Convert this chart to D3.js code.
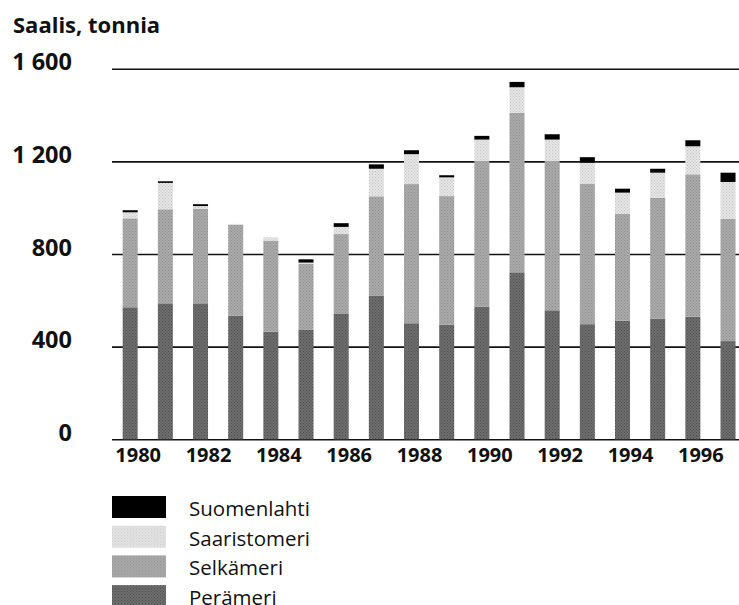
<!DOCTYPE html>
<html>
<head>
<meta charset="utf-8">
<script src="https://cdn.jsdelivr.net/npm/d3@7"></script>
<style>
  html, body { margin: 0; padding: 0; background: #fff; }
  svg { display: block; }
</style>
</head>
<body>
<svg id="chart" width="739" height="605"></svg>
<script>
// Saalis merialueittain 1980–1997, tonnia
const years = [1980, 1981, 1982, 1983, 1984, 1985, 1986, 1987, 1988,
               1989, 1990, 1991, 1992, 1993, 1994, 1995, 1996, 1997];
const perameri     = [570, 587, 587, 534, 465, 472, 541, 619, 501, 495, 573, 721, 557, 497, 512, 521, 529, 424];
const selkameri    = [384, 406, 409, 392, 392, 285, 345, 430, 601, 555, 630, 689, 646, 607, 462, 522, 615, 527];
const saaristomeri = [ 26, 114,  11,   4,  15,   6,  31, 119, 129,  81,  91, 110,  91,  90,  91, 108, 121, 160];
const suomenlahti  = [  9,   7,   8,   0,   0,  14,  16,  19,  17,   9,  16,  23,  23,  24,  17,  17,  26,  40];

const seriesNames = ["Perämeri", "Selkämeri", "Saaristomeri", "Suomenlahti"];
const yTicks = [0, 400, 800, 1200, 1600];
const xTickYears = [1980, 1982, 1984, 1986, 1988, 1990, 1992, 1994, 1996];
const legendOrder = ["Suomenlahti", "Saaristomeri", "Selkämeri", "Perämeri"];

const rows = years.map((yr, i) => ({
  year: yr,
  "Perämeri": perameri[i],
  "Selkämeri": selkameri[i],
  "Saaristomeri": saaristomeri[i],
  "Suomenlahti": suomenlahti[i]
}));

const svg = d3.select("#chart");
const defs = svg.append("defs");

// halftone-like fills: a fine dot screen over a flat grey
function screen(id, base, dot) {
  const p = defs.append("pattern")
    .attr("id", id).attr("patternUnits", "userSpaceOnUse")
    .attr("width", 3).attr("height", 3);
  p.append("rect").attr("width", 3).attr("height", 3).attr("fill", base);
  p.append("rect").attr("width", 1).attr("height", 1).attr("fill", dot);
  p.append("rect").attr("x", 1.5).attr("y", 1.5).attr("width", 1).attr("height", 1).attr("fill", dot);
}
screen("pPera", "#6e6e6e", "#4e4e4e");
screen("pSelka", "#aaaaaa", "#8e8e8e");
screen("pSaaristo", "#e6e6e6", "#c4c4c4");

const fills = {
  "Perämeri": "url(#pPera)",
  "Selkämeri": "url(#pSelka)",
  "Saaristomeri": "url(#pSaaristo)",
  "Suomenlahti": "#000"
};

const plotLeft = 112, plotRight = 739;
const y = d3.scaleLinear().domain([0, 1600]).range([439.3, 68.7]);
const x = d3.scaleBand().domain(years).range([112.6, 745.6])
  .paddingInner(0.573).paddingOuter(0.2865);

const fiLocale = d3.formatLocale({ decimal: ",", thousands: " ", grouping: [3], currency: ["", " €"] });
const fmt = fiLocale.format(",d");

// title
svg.append("text")
  .attr("x", 13).attr("y", 33)
  .attr("font-family", "'Open Sans', sans-serif")
  .attr("font-weight", 700).attr("font-size", 22)
  .attr("fill", "#111")
  .text("Saalis, tonnia");

// y axis with gridlines
const yAxis = svg.append("g")
  .attr("transform", `translate(${plotLeft},0)`)
  .call(d3.axisLeft(y).tickValues(yTicks).tickFormat(fmt)
    .tickSize(-(plotRight - plotLeft)).tickPadding(40));
yAxis.select(".domain").remove();
yAxis.selectAll(".tick line").attr("stroke", "#111").attr("stroke-width", 1.6);
yAxis.selectAll(".tick text")
  .attr("dy", "0.05em")
  .attr("font-family", "'Open Sans', sans-serif")
  .attr("font-weight", 700).attr("font-size", 23.5)
  .attr("fill", "#111");

// stacked bars
const stack = d3.stack().keys(seriesNames);
const layers = stack(rows);
svg.append("g").selectAll("g")
  .data(layers).join("g")
  .attr("fill", d => fills[d.key])
  .selectAll("rect")
  .data(d => d).join("rect")
  .attr("x", d => x(d.data.year))
  .attr("width", x.bandwidth())
  .attr("y", d => y(d[1]))
  .attr("height", d => Math.max(0, y(d[0]) - y(d[1])));

// x axis labels
const xAxis = svg.append("g")
  .attr("transform", `translate(0,${y(0)})`)
  .call(d3.axisBottom(x).tickValues(xTickYears).tickSize(0).tickPadding(0));
xAxis.select(".domain").remove();
xAxis.selectAll(".tick text")
  .attr("y", 22.4).attr("dy", 0).attr("dx", 8)
  .attr("font-family", "'Open Sans', sans-serif")
  .attr("font-weight", 700).attr("font-size", 20)
  .attr("fill", "#111");

// legend
const legend = svg.append("g").selectAll("g")
  .data(legendOrder).join("g")
  .attr("transform", (d, i) => `translate(112,${496 + i * 29.7})`);
legend.append("rect")
  .attr("width", 54).attr("height", 22)
  .attr("fill", d => fills[d]);
legend.append("text")
  .attr("x", 77).attr("y", 20)
  .attr("font-family", "'Open Sans', sans-serif")
  .attr("font-size", 20.5)
  .attr("fill", "#111")
  .text(d => d);
</script>
</body>
</html>
